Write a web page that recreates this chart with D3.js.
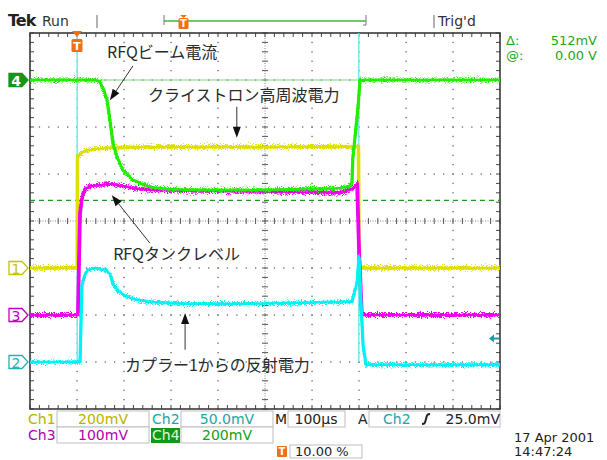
<!DOCTYPE html>
<html><head><meta charset="utf-8">
<script src="https://d3js.org/d3.v7.min.js"></script>
<style>
body{margin:0;background:#fff}
svg{display:block}
text{font-family:"DejaVu Sans",sans-serif}
.jp{font-family:"Noto Sans CJK JP",sans-serif;fill:#2a2a2a;font-size:16px}
</style>
</head><body><div id="container"></div>
<script>
// time in microseconds (100us/div, trigger at 10%), values in mV
var ch1T = [-100, 0.5, 1, 5, 15, 40, 70, 150, 400, 599, 600, 900];
var ch1V = [0, 0, 472, 481, 498, 506, 511, 515, 515, 517, 0, 0];

var ch3T = [-100, 2, 6.4, 10.6, 17, 27.7, 70, 119, 155, 262, 474, 560, 585, 596, 600, 606, 900];
var ch3V = [0, 0, 215, 249, 268, 274, 279, 270, 266, 264, 262, 260, 268, 279, 140, 0, 0];

var ch4T = [-100, 38, 49, 57, 63.8, 70, 76.6, 85, 98, 119, 155, 191, 262, 400, 474, 560, 581, 585, 587, 596, 600, 602, 900];
var ch4V = [0, 0, -8, -43, -85, -170, -268, -328, -383, -426, -455, -464, -468, -468, -464, -460, -451, -438, -328, -157, -64, 0, 0];

var ch2T = [-100, 5, 6.4, 8.5, 10.6, 17, 23, 38, 49, 60, 70, 76.6, 87, 98, 119, 155, 226, 368, 474, 581, 585, 596, 600, 604, 609, 615, 900];
var ch2V = [0, 0, 0, 42, 82, 93, 98, 100, 99, 98, 94, 83, 76, 72, 67, 64, 62, 62, 63, 64, 64, 85, 112, 64, 16, -3, -3];

// ch2 glitches at the pulse edges (go off screen)
var glitchT = [0.5, 599.5];
var glitchV = [380, 400];

var channels = [
  {name:'Ch1', mvDiv:200, ground:-1, color:'#dede00', label:'1'},
  {name:'Ch2', mvDiv:50,  ground:-3, color:'#00f2f2', label:'2'},
  {name:'Ch3', mvDiv:100, ground:-2, color:'#f000f0', label:'3'},
  {name:'Ch4', mvDiv:200, ground:3,  color:'#22ee00', label:'4'}
];
var cursorV = [0, -512]; // ch4 cursors
var trigLevel = 25; // ch2 mV

var W = 607, H = 460, L = 30, R = 500, T = 33, B = 409;

var x = d3.scaleLinear().domain([-100, 900]).range([L, R]);
var gx = d3.scaleLinear().domain([0, 10]).range([L, R]);
var div = d3.scaleLinear().domain([-4, 4]).range([B, T]);
channels.forEach(function(c){
  c.y = d3.scaleLinear().domain([(-4 - c.ground) * c.mvDiv, (4 - c.ground) * c.mvDiv]).range([B, T]);
});

var svg = d3.select('#container').append('svg').attr('width', W).attr('height', H);

var defs = svg.append('defs');
defs.append('clipPath').attr('id', 'plot').append('rect')
  .attr('x', L).attr('y', T).attr('width', R - L).attr('height', B - T);
// vertical-only jitter so the traces look like noisy scope bands
var flt = defs.append('filter').attr('id', 'fuzz').attr('filterUnits', 'userSpaceOnUse')
  .attr('x', 0).attr('y', 0).attr('width', W).attr('height', H)
  .attr('color-interpolation-filters', 'sRGB');
flt.append('feTurbulence').attr('type', 'fractalNoise').attr('baseFrequency', '1.3 0.9')
  .attr('numOctaves', 1).attr('seed', 4).attr('result', 'n');
flt.append('feColorMatrix').attr('in', 'n').attr('type', 'matrix')
  .attr('values', '0 0 0 0 0.5  0 1 0 0 0  0 0 1 0 0  0 0 0 0 1').attr('result', 'm');
flt.append('feDisplacementMap').attr('in', 'SourceGraphic').attr('in2', 'm')
  .attr('scale', 10).attr('xChannelSelector', 'R').attr('yChannelSelector', 'G');

// ---- graticule
var grid = svg.append('g');
var minorY = d3.range(-20, 21).map(function(i){ return i / 5; });
var minorX = d3.range(0, 51).map(function(i){ return i / 5; });
d3.range(1, 10).filter(function(k){ return k != 5; }).forEach(function(k){
  grid.selectAll(null).data(minorY).enter().append('rect')
    .attr('x', gx(k) - 0.6).attr('y', function(d){ return div(d) - 0.6; })
    .attr('width', 1.3).attr('height', 1.3).attr('fill', '#666');
});
d3.range(-3, 4).filter(function(k){ return k != 0; }).forEach(function(k){
  grid.selectAll(null).data(minorX).enter().append('rect')
    .attr('x', function(d){ return gx(d) - 0.6; }).attr('y', div(k) - 0.6)
    .attr('width', 1.3).attr('height', 1.3).attr('fill', '#666');
});
// center cross
grid.append('line').attr('x1', gx(5)).attr('x2', gx(5)).attr('y1', T).attr('y2', B)
  .attr('stroke', '#888').attr('stroke-dasharray', '1,1.5');
grid.append('line').attr('x1', L).attr('x2', R).attr('y1', div(0)).attr('y2', div(0))
  .attr('stroke', '#888').attr('stroke-dasharray', '1,1.5');
grid.selectAll(null).data(minorY).enter().append('line')
  .attr('x1', gx(5) - 3).attr('x2', gx(5) + 3)
  .attr('y1', function(d){ return div(d); }).attr('y2', function(d){ return div(d); })
  .attr('stroke', '#555');
grid.selectAll(null).data(minorX).enter().append('line')
  .attr('y1', div(0) - 3).attr('y2', div(0) + 3)
  .attr('x1', function(d){ return gx(d); }).attr('x2', function(d){ return gx(d); })
  .attr('stroke', '#555');
// border ticks
grid.selectAll(null).data(minorX).enter().append('path')
  .attr('d', function(d){ var p = gx(d); return 'M' + p + ',' + T + 'v4M' + p + ',' + B + 'v-4'; })
  .attr('stroke', '#444');
grid.selectAll(null).data(minorY).enter().append('path')
  .attr('d', function(d){ var p = div(d); return 'M' + L + ',' + p + 'h4M' + R + ',' + p + 'h-4'; })
  .attr('stroke', '#444');
grid.append('rect').attr('x', L).attr('y', T).attr('width', R - L).attr('height', B - T)
  .attr('fill', 'none').attr('stroke', '#3a3a3a').attr('stroke-width', 1.6);

// ---- cursors (ch4)
var c4 = channels[3];
svg.append('line').attr('x1', L).attr('x2', R).attr('y1', c4.y(cursorV[0])).attr('y2', c4.y(cursorV[0]))
  .attr('stroke', '#7cd87c').attr('stroke-width', 1);
svg.append('line').attr('x1', L).attr('x2', R).attr('y1', c4.y(cursorV[1])).attr('y2', c4.y(cursorV[1]))
  .attr('stroke', '#1f9a1f').attr('stroke-width', 1.2).attr('stroke-dasharray', '5,4');

// ---- traces
var traces = svg.append('g').attr('clip-path', 'url(#plot)');
function drawTrace(c, ts, vs, w){
  var pts = ts.map(function(t, i){ return [x(t), c.y(vs[i])]; });
  var line = d3.line();
  traces.append('path').attr('d', line(pts)).attr('fill', 'none')
    .attr('stroke', c.color).attr('stroke-width', w).attr('stroke-linejoin', 'round')
    .attr('filter', 'url(#fuzz)');
  traces.append('path').attr('d', line(pts)).attr('fill', 'none')
    .attr('stroke', c.color).attr('stroke-width', 2.4).attr('stroke-linejoin', 'round');
}
// glitch lines of ch2
traces.selectAll(null).data(glitchT).enter().append('line')
  .attr('x1', function(d){ return x(d); }).attr('x2', function(d){ return x(d); })
  .attr('y1', channels[1].y(0)).attr('y2', function(d, i){ return channels[1].y(glitchV[i]); })
  .attr('stroke', '#7fe6f0').attr('stroke-width', 1.6);
drawTrace(channels[0], ch1T, ch1V, 3.5);
drawTrace(channels[2], ch3T, ch3V, 3.8);
drawTrace(channels[3], ch4T, ch4V, 3.2);
drawTrace(channels[1], ch2T, ch2V, 3.2);

// ---- trigger marker on plot
var trigX = x(0);
svg.append('path').attr('d', 'M' + (trigX - 5) + ',' + (T - 2) + 'h10l-5,6z').attr('fill', '#f07018');
svg.append('rect').attr('x', trigX - 5.5).attr('y', T + 6).attr('width', 11).attr('height', 13)
  .attr('rx', 1.5).attr('fill', '#f07018');
svg.append('text').attr('x', trigX).attr('y', T + 17).attr('text-anchor', 'middle')
  .attr('fill', '#fff').attr('font-size', 11).attr('font-weight', 'bold').text('T');

// trigger level arrow (ch2)
var ty = channels[1].y(trigLevel);
svg.append('path').attr('d', 'M' + (R - 11) + ',' + ty + 'l5,-4v3h5v2h-5v3z').attr('fill', '#1a9fa8');

// ---- channel ground markers
var marker = svg.append('g');
channels.forEach(function(c){
  var yy = c.y(0), x0 = 9;
  var filled = c.name == 'Ch4';
  var col = {Ch1:'#c4c400', Ch2:'#1fb3b3', Ch3:'#c000c0', Ch4:'#15961a'}[c.name];
  marker.append('path')
    .attr('d', 'M' + x0 + ',' + (yy - 6.5) + 'h13l6,6.5l-6,6.5h-13z')
    .attr('fill', filled ? col : '#fff').attr('stroke', col).attr('stroke-width', 1.3);
  marker.append('text').attr('x', x0 + 7).attr('y', yy + 5.5).attr('text-anchor', 'middle')
    .attr('font-size', 14).attr('font-weight', filled ? 'bold' : 'normal')
    .attr('fill', filled ? '#fff' : col).text(c.label);
});

// ---- annotations (positions in time / divisions)
var notes = [
  {text:'RFQビーム電流', t:64, d:3.47, at:[119, 3.30], tip:[70, 2.57]},
  {text:'クライストロン高周波電力', t:151, d:2.55, at:[340, 2.43], tip:[340, 1.77]},
  {text:'RFQタンクレベル', t:77, d:-0.83, at:[155, -0.47], tip:[74, 0.55]},
  {text:'カプラー1からの反射電力', t:102, d:-3.19, at:[230, -2.74], tip:[230, -1.96]}
];
var ann = svg.append('g');
notes.forEach(function(n){
  ann.append('text').attr('class', 'jp').attr('x', x(n.t)).attr('y', div(n.d)).text(n.text);
  var x1 = x(n.at[0]), y1 = div(n.at[1]), x2 = x(n.tip[0]), y2 = div(n.tip[1]);
  var a = Math.atan2(y2 - y1, x2 - x1), len = 11, hw = 4;
  var bx = x2 - len * Math.cos(a), by = y2 - len * Math.sin(a);
  ann.append('line').attr('x1', x1).attr('y1', y1).attr('x2', bx).attr('y2', by)
    .attr('stroke', '#333').attr('stroke-width', 1);
  ann.append('path').attr('fill', '#111')
    .attr('d', 'M' + x2 + ',' + y2 + 'L' + (bx + hw * Math.sin(a)) + ',' + (by - hw * Math.cos(a)) +
      'L' + (bx - hw * Math.sin(a)) + ',' + (by + hw * Math.cos(a)) + 'Z');
});

// ---- top status bar
var bar = svg.append('g');
bar.append('text').attr('x', 8).attr('y', 26).attr('font-size', 16).attr('font-weight', 'bold')
  .attr('letter-spacing', -1).attr('fill', '#222').text('Tek');
bar.append('text').attr('x', 42).attr('y', 26).attr('font-size', 14).attr('fill', '#333').text('Run');
bar.append('line').attr('x1', 97).attr('x2', 97).attr('y1', 15).attr('y2', 28).attr('stroke', '#666');
bar.append('line').attr('x1', 164).attr('x2', 366).attr('y1', 21).attr('y2', 21).attr('stroke', '#3cb83c').attr('stroke-width', 1.5);
bar.append('path').attr('d', 'M164,15v10M366,15v10h-3').attr('stroke', '#777').attr('fill', 'none');
bar.append('path').attr('d', 'M180,15h7l-3.5,3z').attr('fill', '#f07018');
bar.append('rect').attr('x', 178.5).attr('y', 18).attr('width', 10).attr('height', 11).attr('rx', 1.5).attr('fill', '#f07018');
bar.append('text').attr('x', 183.5).attr('y', 27).attr('text-anchor', 'middle').attr('font-size', 10)
  .attr('font-weight', 'bold').attr('fill', '#fff').text('T');
bar.append('line').attr('x1', 434).attr('x2', 434).attr('y1', 15).attr('y2', 28).attr('stroke', '#666');
bar.append('text').attr('x', 438).attr('y', 26).attr('font-size', 14).attr('fill', '#333').text("Trig'd");

// cursor readout
var ro = svg.append('g').attr('fill', '#22a822').attr('font-size', 13);
ro.append('text').attr('x', 506).attr('y', 45).text('Δ:');
ro.append('text').attr('x', 597).attr('y', 45).attr('text-anchor', 'end').text((cursorV[0] - cursorV[1]) + 'mV');
ro.append('text').attr('x', 506).attr('y', 60).text('@:');
ro.append('text').attr('x', 597).attr('y', 60).attr('text-anchor', 'end').text(cursorV[0].toFixed(2) + ' V');

// ---- bottom readouts
var bot = svg.append('g').attr('font-size', 14);
function box(x0, y0, w, h){
  bot.append('rect').attr('x', x0).attr('y', y0).attr('width', w).attr('height', h)
    .attr('fill', '#fff').attr('stroke', '#bdbdbd');
}
var scaleText = {Ch1:'200mV', Ch2:'50.0mV', Ch3:'100mV', Ch4:'200mV'};
var scaleCol = {Ch1:'#b4b400', Ch2:'#1aa6a6', Ch3:'#b000b0', Ch4:'#14a014'};
[['Ch1', 28, 424, 411], ['Ch2', 152, 424, 411], ['Ch3', 28, 440, 427], ['Ch4', 152, 440, 427]].forEach(function(r){
  var nm = r[0];
  if (nm == 'Ch4') {
    bot.append('rect').attr('x', 151).attr('y', r[3] + 1).attr('width', 29).attr('height', 15).attr('fill', '#14961a');
  }
  bot.append('text').attr('x', r[1]).attr('y', r[2]).attr('fill', nm == 'Ch4' ? '#d8ffd8' : scaleCol[nm]).text(nm);
  box(r[1] + 29, r[3], 92, 16);
  bot.append('text').attr('x', r[1] + 29 + 46).attr('y', r[2]).attr('text-anchor', 'middle')
    .attr('fill', scaleCol[nm]).text(scaleText[nm]);
});
bot.append('text').attr('x', 275).attr('y', 424).attr('fill', '#222').text('M');
box(288, 411, 57, 16);
bot.append('text').attr('x', 316).attr('y', 424).attr('text-anchor', 'middle').attr('fill', '#222').text('100µs');
bot.append('text').attr('x', 358).attr('y', 424).attr('fill', '#222').text('A');
box(369, 411, 131, 16);
bot.append('text').attr('x', 383).attr('y', 424).attr('fill', '#1aa6a6').text('Ch2');
bot.append('path').attr('d', 'M422,424c3,0 3,-1 4,-5s1,-5 4,-5').attr('fill', 'none').attr('stroke', '#222').attr('stroke-width', 2);
bot.append('text').attr('x', 500).attr('y', 424).attr('text-anchor', 'end').attr('fill', '#222').text(trigLevel.toFixed(1) + 'mV');
bot.append('rect').attr('x', 277).attr('y', 446).attr('width', 10).attr('height', 11).attr('rx', 1).attr('fill', '#f07018');
bot.append('text').attr('x', 282).attr('y', 455).attr('text-anchor', 'middle').attr('font-size', 10)
  .attr('font-weight', 'bold').attr('fill', '#fff').text('T');
box(290, 445, 72, 13);
bot.append('text').attr('x', 295).attr('y', 456).attr('font-size', 13).attr('fill', '#222').text('10.00 %');
bot.append('text').attr('x', 514).attr('y', 442).attr('font-size', 13).attr('fill', '#222').text('17 Apr 2001');
bot.append('text').attr('x', 514).attr('y', 456).attr('font-size', 13).attr('fill', '#222').text('14:47:24');
</script>
</body></html>
